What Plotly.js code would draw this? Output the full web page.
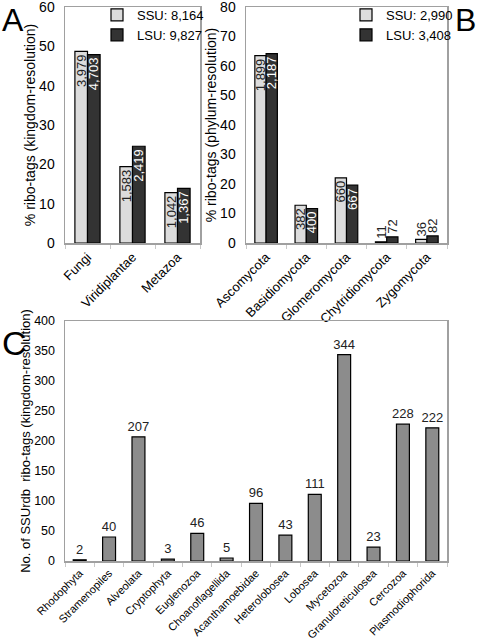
<!DOCTYPE html>
<html>
<head>
<meta charset="utf-8">
<script src="https://cdn.plot.ly/plotly-3.0.1.min.js"></script>
<style>html,body{margin:0;padding:0;background:#fff}#chart{width:478px;height:642px}</style>
</head>
<body>
<div id="chart"></div>
<script>
// Panel A: kingdom resolution
const kingdoms = ["Fungi", "Viridiplantae", "Metazoa"];
const kingdomSSU = [48.7, 19.4, 12.8];
const kingdomLSU = [47.9, 24.6, 13.9];
const kingdomSSULabels = ["3,979", "1,583", "1,042"];
const kingdomLSULabels = ["4,703", "2,419", "1,367"];
const kingdomLegend = ["SSU: 8,164", "LSU: 9,827"];

// Panel B: phylum resolution
const phyla = ["Ascomycota", "Basidiomycota", "Glomeromycota", "Chytridiomycota", "Zygomycota"];
const phylumSSU = [63.5, 12.8, 22.1, 0.4, 1.2];
const phylumLSU = [64.2, 11.7, 19.6, 2.1, 2.4];
const phylumSSULabels = ["1,899", "382", "660", "11", "36"];
const phylumLSULabels = ["2,187", "400", "667", "72", "82"];
const phylumLegend = ["SSU: 2,990", "LSU: 3,408"];

// Panel C: SSUrdb ribo-tags
const protists = ["Rhodophyta", "Stramenopiles", "Alveolata", "Cryptophyta", "Euglenozoa",
  "Choanoflagellida", "Acanthamoebidae", "Heterolobosea", "Lobosea", "Mycetozoa",
  "Granuloreticulosea", "Cercozoa", "Plasmodiophorida"];
const protistCounts = [2, 40, 207, 3, 46, 5, 96, 43, 111, 344, 23, 228, 222];

const W = 478, H = 642;
const FONT = "Liberation Sans, Arial, sans-serif";
const light = "#dcdcdc", dark = "#333333", mid = "#8c8c8c";

function pos(vals, thr) { return vals.map(v => v >= thr ? "inside" : "outside"); }

const barCommon = {
  type: "bar", textangle: -90, insidetextanchor: "end", constraintext: "none",
  cliponaxis: false, textfont: {family: FONT, size: 13}
};

const traces = [
  Object.assign({}, barCommon, {
    x: kingdoms, y: kingdomSSU, name: kingdomLegend[0], text: kingdomSSULabels,
    textposition: pos(kingdomSSU, 5), xaxis: "x", yaxis: "y", legend: "legend",
    marker: {color: light, line: {color: "#000", width: 1.2}},
    insidetextfont: {family: FONT, size: 13, color: "#222"},
    outsidetextfont: {family: FONT, size: 13, color: "#222"}
  }),
  Object.assign({}, barCommon, {
    x: kingdoms, y: kingdomLSU, name: kingdomLegend[1], text: kingdomLSULabels,
    textposition: pos(kingdomLSU, 5), xaxis: "x", yaxis: "y", legend: "legend",
    marker: {color: dark, line: {color: "#000", width: 1.2}},
    insidetextfont: {family: FONT, size: 13, color: "#fff"},
    outsidetextfont: {family: FONT, size: 13, color: "#222"}
  }),
  Object.assign({}, barCommon, {
    x: phyla, y: phylumSSU, name: phylumLegend[0], text: phylumSSULabels,
    textposition: pos(phylumSSU, 5), xaxis: "x2", yaxis: "y2", legend: "legend2",
    marker: {color: light, line: {color: "#000", width: 1.2}},
    insidetextfont: {family: FONT, size: 13, color: "#222"},
    outsidetextfont: {family: FONT, size: 13, color: "#222"}
  }),
  Object.assign({}, barCommon, {
    x: phyla, y: phylumLSU, name: phylumLegend[1], text: phylumLSULabels,
    textposition: pos(phylumLSU, 5), xaxis: "x2", yaxis: "y2", legend: "legend2",
    marker: {color: dark, line: {color: "#000", width: 1.2}},
    insidetextfont: {family: FONT, size: 13, color: "#fff"},
    outsidetextfont: {family: FONT, size: 13, color: "#222"}
  }),
  {
    type: "bar", x: protists, y: protistCounts, text: protistCounts.map(String),
    textposition: "outside", cliponaxis: false, constraintext: "none", width: 0.44,
    showlegend: false, xaxis: "x3", yaxis: "y3",
    marker: {color: mid, line: {color: "#000", width: 1.2}},
    textfont: {family: FONT, size: 13, color: "#222"}
  }
];

function xa(l, r, anchor, fs) {
  return {domain: [l / W, r / W], anchor: anchor, showline: true, mirror: true,
    linecolor: "#a0a0a0", linewidth: 1.5, ticks: "outside", tickson: "boundaries",
    ticklen: 4, tickcolor: "#c8c8c8", tickangle: -45, showgrid: false,
    ticklabeloverflow: "allow",
    tickfont: {family: FONT, size: fs, color: "#000"}, fixedrange: true};
}
function ya(t, b, anchor, range, dtick, title, fs, tfs) {
  return {domain: [1 - b / H, 1 - t / H], anchor: anchor, range: range, dtick: dtick,
    showline: true, mirror: true, linecolor: "#a0a0a0", linewidth: 1.5,
    ticks: "", showgrid: false, zeroline: false, ticklabelstandoff: 6,
    ticklabeloverflow: "allow",
    tickfont: {family: FONT, size: fs, color: "#000"},
    title: {text: title, font: {family: FONT, size: tfs, color: "#000"}, standoff: 0},
    fixedrange: true};
}

const legendCommon = {
  xanchor: "right", yanchor: "top", bgcolor: "rgba(0,0,0,0)", borderwidth: 0,
  font: {family: FONT, size: 13, color: "#000"}, tracegroupgap: 0, itemwidth: 30
};

const layout = {
  width: W, height: H, margin: {l: 0, r: 0, t: 0, b: 0},
  paper_bgcolor: "#fff", plot_bgcolor: "#fff",
  barmode: "group", bargap: 0.44, bargroupgap: 0,
  font: {family: FONT, color: "#000"},
  xaxis: xa(65, 200, "y", 13),
  yaxis: ya(7, 243, "x", [0, 60], 10, "% ribo-tags (kingdom-resolution)", 14, 14),
  xaxis2: xa(246, 447, "y2", 13),
  yaxis2: ya(7, 243, "x2", [0, 80], 10, "% ribo-tags (phylum-resolution)", 14, 14),
  xaxis3: xa(65, 447, "y3", 11),
  yaxis3: ya(321, 561, "x3", [0, 400], 50, "No. of SSUrdb  ribo-tags (kingdom-resolution)", 12.5, 13),
  legend: Object.assign({x: 209 / W, y: 1}, legendCommon),
  legend2: Object.assign({x: 458 / W, y: 1}, legendCommon),
  showlegend: true,
  annotations: [
    {text: "A", x: 0, y: 1, xref: "paper", yref: "paper", xanchor: "left", yanchor: "top",
     showarrow: false, font: {family: FONT, size: 32, color: "#000"}},
    {text: "B", x: 1, y: 1, xref: "paper", yref: "paper", xanchor: "right", yanchor: "top",
     showarrow: false, font: {family: FONT, size: 32, color: "#000"}},
    {text: "C", x: 0, y: 1 - 322 / H, xref: "paper", yref: "paper", xanchor: "left", yanchor: "top",
     showarrow: false, font: {family: FONT, size: 34, color: "#000"}}
  ]
};

Plotly.newPlot("chart", traces, layout, {displayModeBar: false, staticPlot: true});
</script>
</body>
</html>
